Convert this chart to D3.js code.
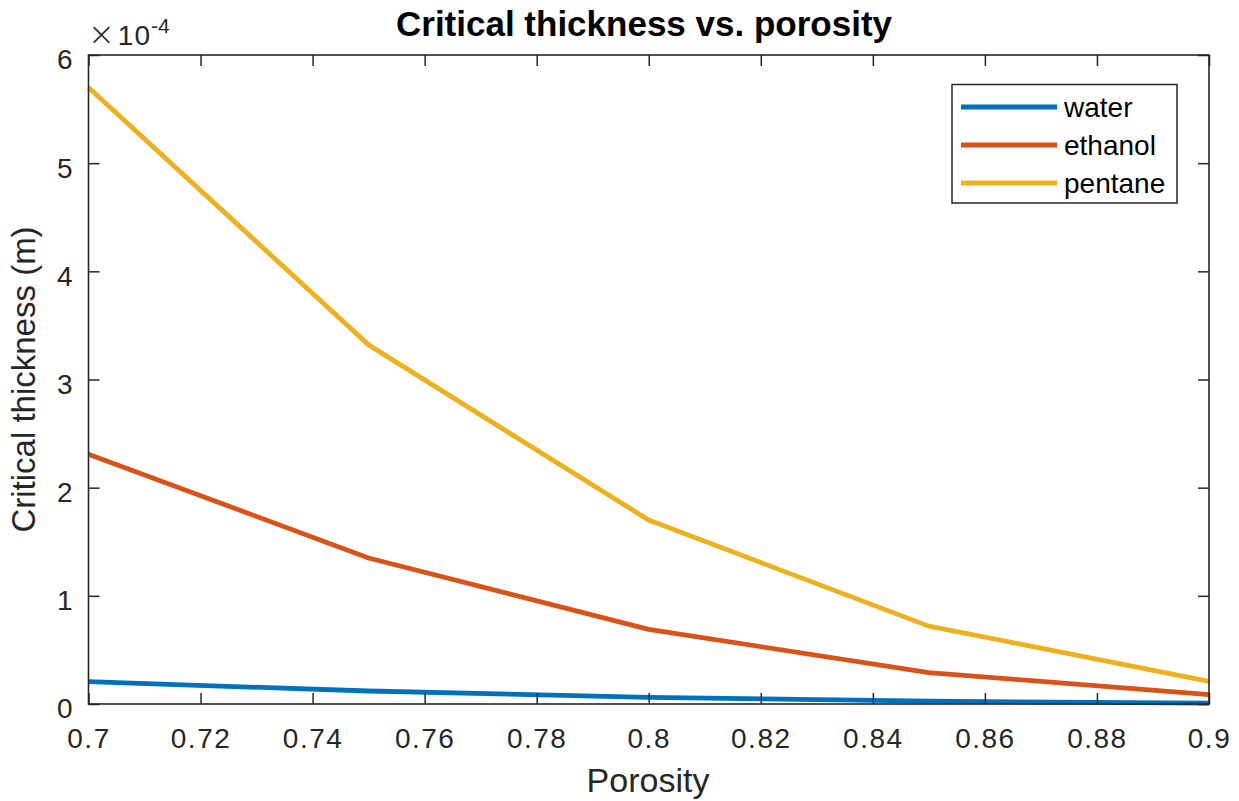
<!DOCTYPE html>
<html><head><meta charset="utf-8">
<script src="https://cdn.jsdelivr.net/npm/d3@7"></script>
<style>
html,body{margin:0;padding:0;background:#fff;}
svg{display:block;font-family:"Liberation Sans",Arial,Helvetica,sans-serif;}
</style></head>
<body>
<svg id="chart" width="1239" height="801"></svg>
<script>
const porosity = [0.70, 0.75, 0.80, 0.85, 0.90];
const water   = [0.206e-4, 0.120e-4, 0.062e-4, 0.026e-4, 0.008e-4];
const ethanol = [2.31e-4, 1.35e-4, 0.69e-4, 0.29e-4, 0.087e-4];
const pentane = [5.70e-4, 3.32e-4, 1.70e-4, 0.72e-4, 0.21e-4];
const seriesNames = ["water", "ethanol", "pentane"];
const seriesColors = ["#0072BD", "#D95319", "#EDB120"];
const xTicks = [0.70, 0.72, 0.74, 0.76, 0.78, 0.80, 0.82, 0.84, 0.86, 0.88, 0.90];
const xTickLabels = ["0.7","0.72","0.74","0.76","0.78","0.8","0.82","0.84","0.86","0.88","0.9"];
const yTicks = [0, 1e-4, 2e-4, 3e-4, 4e-4, 5e-4, 6e-4];
const yTickLabels = ["0","1","2","3","4","5","6"];

const svg = d3.select("#chart");
const L = 88.5, R = 1209, T = 55, B = 704;
const x = d3.scaleLinear().domain([0.7, 0.9]).range([L, R]);
const y = d3.scaleLinear().domain([0, 6e-4]).range([B, T]);
const axisColor = "#262626";
const tickLen = 11;

const series = [water, ethanol, pentane];
const line = d3.line().x((d, i) => x(porosity[i])).y(d => y(d));

const plot = svg.append("g");
series.forEach((s, k) => {
  plot.append("path").datum(s)
    .attr("d", line)
    .attr("fill", "none")
    .attr("stroke", seriesColors[k])
    .attr("stroke-width", 4.8)
    .attr("stroke-linejoin", "round");
});

const fmtX = (d) => xTickLabels[xTicks.findIndex(v => Math.abs(v - d) < 1e-9)];
const fmtY = (d) => yTickLabels[yTicks.findIndex(v => Math.abs(v - d) < 1e-12)];

const gx = svg.append("g").attr("transform", `translate(0,${B})`)
  .call(d3.axisBottom(x).tickValues(xTicks).tickFormat(fmtX).tickSizeInner(-tickLen).tickSizeOuter(0).tickPadding(24));
const gxTop = svg.append("g").attr("transform", `translate(0,${T})`)
  .call(d3.axisTop(x).tickValues(xTicks).tickFormat("").tickSizeInner(-tickLen).tickSizeOuter(0));
const gy = svg.append("g").attr("transform", `translate(${L},0)`)
  .call(d3.axisLeft(y).tickValues(yTicks).tickFormat(fmtY).tickSizeInner(-tickLen).tickSizeOuter(0).tickPadding(16));
const gyR = svg.append("g").attr("transform", `translate(${R},0)`)
  .call(d3.axisRight(y).tickValues(yTicks).tickFormat("").tickSizeInner(-tickLen).tickSizeOuter(0));

[gx, gxTop, gy, gyR].forEach(g => {
  g.select(".domain").remove();
  g.selectAll(".tick line").attr("stroke", axisColor).attr("stroke-width", 1.5);
  g.selectAll(".tick text").attr("fill", axisColor).attr("font-size", 28).attr("font-family", "Liberation Sans, Arial, sans-serif");
});
gx.selectAll(".tick text").attr("dy", "0.71em").attr("letter-spacing", 1.5);
gy.selectAll(".tick text").attr("dy", "0.32em").attr("transform", "translate(0,5)");

svg.append("rect").attr("x", L).attr("y", T).attr("width", R - L).attr("height", B - T)
  .attr("fill", "none").attr("stroke", axisColor).attr("stroke-width", 1.6);

// exponent
const ex = svg.append("text").attr("x", 88).attr("y", 45).attr("fill", axisColor).attr("font-size", 28);
ex.append("tspan").attr("font-size", 32).attr("font-family", "DejaVu Sans, sans-serif").attr("font-weight", "200").text("×");
ex.append("tspan").attr("dx", 3).attr("letter-spacing", 1).text("10");
ex.append("tspan").attr("dy", -12).attr("font-size", 21).text("-4");

// title
svg.append("text").attr("x", 644).attr("y", 36).attr("text-anchor", "middle")
  .attr("font-size", 35).attr("font-weight", "bold").attr("fill", "#000")
  .text("Critical thickness vs. porosity");

// axis labels
svg.append("text").attr("x", 648).attr("y", 792).attr("text-anchor", "middle")
  .attr("font-size", 34).attr("fill", axisColor).text("Porosity");
svg.append("text").attr("transform", `translate(35,${(T + B) / 2}) rotate(-90)`).attr("text-anchor", "middle")
  .attr("font-size", 33).attr("fill", axisColor).text("Critical thickness (m)");

// legend
const lg = svg.append("g");
lg.append("rect").attr("x", 952).attr("y", 84.5).attr("width", 225).attr("height", 118.5)
  .attr("fill", "#fff").attr("stroke", axisColor).attr("stroke-width", 1.5);
const rowY = d3.scalePoint().domain(seriesNames).range([107, 183]);
seriesNames.forEach((n, k) => {
  lg.append("line").attr("x1", 961).attr("x2", 1057).attr("y1", rowY(n)).attr("y2", rowY(n))
    .attr("stroke", seriesColors[k]).attr("stroke-width", 4.8);
  lg.append("text").attr("x", 1064).attr("y", rowY(n)).attr("dy", "0.35em")
    .attr("font-size", 28).attr("fill", "#000").text(n);
});
</script>
</body></html>
